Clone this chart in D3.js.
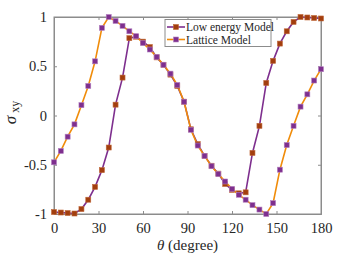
<!DOCTYPE html>
<html>
<head>
<meta charset="utf-8">
<script src="https://cdn.jsdelivr.net/npm/d3@7"></script>
<style>
  body { margin: 0; background: #fff; }
  svg text { font-family: "Liberation Serif", "Times New Roman", serif; fill: #262626; }
</style>
</head>
<body>
<div id="chart"></div>
<script>
const theta = [0, 4.6, 9.2, 13.8, 18.5, 23.1, 27.7, 32.3, 36.9, 41.5,
               46.2, 50.8, 55.4, 60.0, 64.6, 69.2, 73.8, 78.5, 83.1, 87.7,
               92.3, 96.9, 101.5, 106.2, 110.8, 115.4, 120.0, 124.6, 129.2, 133.8,
               138.5, 143.1, 147.7, 152.3, 156.9, 161.5, 166.2, 170.8, 175.4, 180];
const lowEnergy = [-0.98, -0.985, -0.99, -0.995, -0.95, -0.855, -0.725, -0.555, -0.325, 0.11,
                   0.385, 0.785, 0.80, 0.75, 0.695, 0.59, 0.515, 0.415, 0.30, 0.14,
                   -0.14, -0.29, -0.41, -0.51, -0.59, -0.695, -0.755, -0.79, -0.78, -0.38,
                   -0.105, 0.33, 0.555, 0.73, 0.855, 0.95, 1.0, 0.995, 0.99, 0.985];
const lattice = [-0.475, -0.36, -0.215, -0.09, 0.105, 0.30, 0.55, 0.89, 1.0, 0.96,
                 0.91, 0.855, 0.805, 0.735, 0.67, 0.595, 0.515, 0.425, 0.31, 0.14,
                 -0.145, -0.305, -0.41, -0.515, -0.595, -0.67, -0.745, -0.805, -0.855, -0.91,
                 -0.955, -1.0, -0.89, -0.55, -0.30, -0.105, 0.09, 0.215, 0.355, 0.47];
const xTicks = [0, 30, 60, 90, 120, 150, 180];
const yTicks = [-1, -0.5, 0, 0.5, 1];
const yTickLabels = ["-1", "-0.5", "0", "0.5", "1"];
const seriesNames = ["Low energy Model", "Lattice Model"];

const W = 354, H = 257;
const margin = {top: 17, right: 33, bottom: 43, left: 54};
const width = W - margin.left - margin.right,
      height = H - margin.top - margin.bottom;

const purple = "#7E2F8E", orange = "#F08C0A", brown = "#A23E0E";
const series = [
  {name: seriesNames[0], values: lowEnergy, line: purple, fill: brown, edge: "#C0683A"},
  {name: seriesNames[1], values: lattice, line: orange, fill: purple, edge: "#B27FC0"}
];

const svg = d3.select("#chart").append("svg")
    .attr("width", W)
    .attr("height", H);
const g = svg.append("g")
    .attr("transform", "translate(" + margin.left + "," + margin.top + ")");

const x = d3.scaleLinear().domain([0, 180]).range([0, width]);
const y = d3.scaleLinear().domain([-1, 1]).range([height, 0]);

const axisColor = "#8c8c8c";

// box
g.append("rect")
    .attr("width", width).attr("height", height)
    .attr("fill", "none").attr("stroke", axisColor).attr("stroke-width", 1);

// axes with inward ticks
g.append("g")
    .attr("transform", "translate(0," + height + ")")
    .call(d3.axisBottom(x).tickValues(xTicks).tickSize(-3).tickPadding(9));
g.append("g")
    .call(d3.axisLeft(y).tickValues(yTicks).tickSize(-3).tickPadding(7)
          .tickFormat((d, i) => yTickLabels[i]));
g.append("g").call(d3.axisTop(x).tickValues(xTicks).tickSize(-3).tickFormat(""));
g.append("g").attr("transform", "translate(" + width + ",0)")
    .call(d3.axisRight(y).tickValues(yTicks).tickSize(-3).tickFormat(""));

g.selectAll(".domain").attr("stroke", axisColor);
g.selectAll(".tick line").attr("stroke", axisColor);
g.selectAll(".tick text")
    .style("font-family", '"Liberation Serif", serif')
    .style("font-size", "14.5px")
    .attr("fill", "#262626");

// lines and markers
const line = d3.line()
    .x((d, i) => x(theta[i]))
    .y(d => y(d));

series.forEach(s => {
  g.append("path")
      .datum(s.values)
      .attr("fill", "none")
      .attr("stroke", s.line)
      .attr("stroke-width", 1.6)
      .attr("d", line);
});
series.forEach(s => {
  g.selectAll(null)
      .data(s.values)
      .enter().append("rect")
      .attr("x", (d, i) => x(theta[i]) - 2.5)
      .attr("y", d => y(d) - 2.5)
      .attr("width", 5).attr("height", 5)
      .attr("fill", s.fill)
      .attr("stroke", s.edge)
      .attr("stroke-width", 0.6);
});

// axis titles
svg.append("text")
    .attr("x", margin.left + width / 2)
    .attr("y", 250)
    .attr("text-anchor", "middle")
    .style("font-size", "15px")
    .html('<tspan font-style="italic">θ</tspan> (degree)');

svg.append("text")
    .attr("transform", "translate(16," + (margin.top + height / 2 - 3) + ") rotate(-90)")
    .attr("text-anchor", "middle")
    .style("font-size", "17px")
    .html('<tspan font-style="italic">σ</tspan><tspan font-size="12px" dx="3" dy="3">xy</tspan>');

// legend
const lg = svg.append("g").attr("transform", "translate(165,19.5)");
lg.append("rect")
    .attr("width", 106).attr("height", 27)
    .attr("fill", "#fff").attr("stroke", "#8c8c8c").attr("stroke-width", 1);
series.forEach((s, i) => {
  const yy = 7.5 + i * 12.5;
  lg.append("line")
      .attr("x1", 2).attr("x2", 20).attr("y1", yy).attr("y2", yy)
      .attr("stroke", s.line).attr("stroke-width", 1.6);
  lg.append("rect")
      .attr("x", 8.5).attr("y", yy - 2.5).attr("width", 5).attr("height", 5)
      .attr("fill", s.fill).attr("stroke", s.edge).attr("stroke-width", 0.6);
  lg.append("text")
      .attr("x", 21).attr("y", yy + 4)
      .style("font-size", "11.5px")
      .text(s.name);
});
</script>
</body>
</html>
